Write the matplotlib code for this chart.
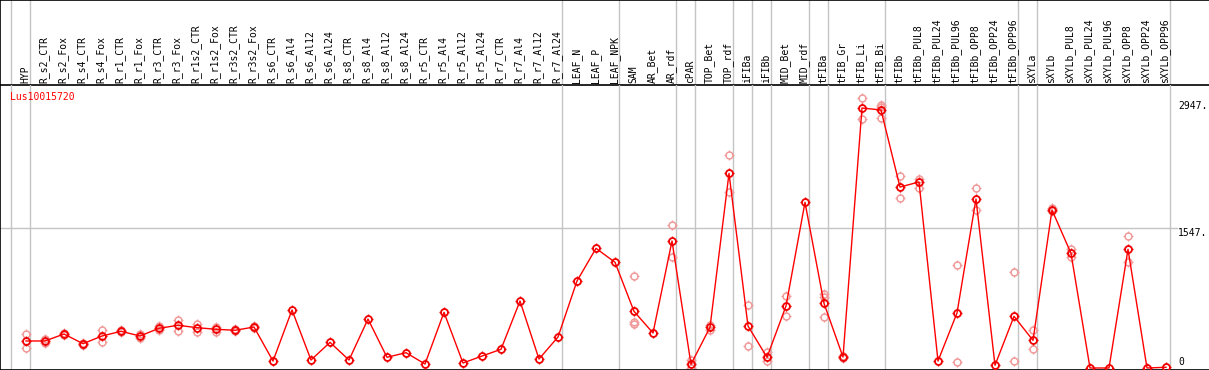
import matplotlib
matplotlib.use("Agg")
import matplotlib.pyplot as plt
import numpy as np
from matplotlib.path import Path

categories = ["HYP", "R_s2_CTR", "R_s2_Fox", "R_s4_CTR", "R_s4_Fox", "R_r1_CTR", "R_r1_Fox",
              "R_r3_CTR", "R_r3_Fox", "R_r1s2_CTR", "R_r1s2_Fox", "R_r3s2_CTR", "R_r3s2_Fox",
              "R_s6_CTR", "R_s6_Al4", "R_s6_Al12", "R_s6_Al24", "R_s8_CTR", "R_s8_Al4", "R_s8_Al12",
              "R_s8_Al24", "R_r5_CTR", "R_r5_Al4", "R_r5_Al12", "R_r5_Al24", "R_r7_CTR", "R_r7_Al4",
              "R_r7_Al12", "R_r7_Al24", "LEAF_N", "LEAF_P", "LEAF_NPK", "SAM", "AR_Bet", "AR_rdf",
              "cPAR", "TOP_Bet", "TOP_rdf", "iFIBa", "iFIBb", "MID_Bet", "MID_rdf", "tFIBa",
              "tFIB_Gr", "tFIB_Li", "tFIB_Bi", "tFIBb", "tFIBb_PUL8", "tFIBb_PUL24", "tFIBb_PUL96",
              "tFIBb_OPP8", "tFIBb_OPP24", "tFIBb_OPP96", "sXYLa", "sXYLb", "sXYLb_PUL8",
              "sXYLb_PUL24", "sXYLb_PUL96", "sXYLb_OPP8", "sXYLb_OPP24", "sXYLb_OPP96"]

means = [298, 298, 375, 268, 353, 405, 353, 438, 471, 445, 427, 416, 452,
         77, 640, 88, 283, 88, 540, 118, 169, 44, 614, 55, 132, 206, 739, 99, 342,
         960, 1320, 1166, 625, 386, 1401, 41, 449, 2147, 463, 118, 684, 1827,
         713, 121, 2868, 2846, 1996, 2052, 77, 607, 1864, 30, 570,
         305, 1743, 1265, 0, 0, 1309, 0, 8]

replicates = [[375, 224], [315, 280], [390, 360], [280, 255], [419, 283], [415, 395],
              [380, 330], [460, 420], [533, 411], [489, 394], [455, 397], [425, 405],
              [465, 440], [], [], [], [], [], [], [], [], [], [], [], [], [], [], [], [],
              [], [], [], [1011, 511, 485], [], [1574, 1221], [88, 4], [470, 419],
              [2346, 1945], [695, 239], [176, 81], [794, 570], [], [813, 780, 559],
              [130, 110], [2978, 2743], [2898, 2880, 2754], [2114, 1875], [2085, 1985], [],
              [1136, 66], [1982, 1743], [], [1059, 77], [419, 206], [1760, 1730],
              [1316, 1228], [], [], [1456, 1173], [], []]

group_starts = [0, 1, 29, 32, 35, 36, 38, 39, 40, 42, 43, 46, 53, 54, 61]
ytick_values = [2947, 1547, 0]
ytick_labels = ["2947.", "1547.", "0"]
gene = "Lus10015720"

W, H = 1209, 370
fig = plt.figure(figsize=(W / 100, H / 100), dpi=100)
fig.patch.set_facecolor("white")

# pixel geometry
x0_px, step_px = 26, 19
xl = (0 - x0_px) / step_px
xr = (W - x0_px) / step_px
header_bottom_px = 85
plot_bottom_px = 369

ax_h = fig.add_axes([0, 1 - header_bottom_px / H, 1, header_bottom_px / H])
ax = fig.add_axes([0, (H - plot_bottom_px - 0.5) / H, 1, (plot_bottom_px + 0.5 - header_bottom_px) / H])

for a in (ax, ax_h):
    a.set_xlim(xl, xr)
    a.set_xticks([])
    a.set_yticks([])
    a.patch.set_alpha(0)
    for s in a.spines.values():
        s.set_visible(False)

ax_h.set_ylim(0, 1)
for s in ("top", "bottom", "left"):
    ax_h.spines[s].set_visible(True)
    ax_h.spines[s].set_color("black")
    ax_h.spines[s].set_linewidth(1.2)
for s in ("bottom", "left"):
    ax.spines[s].set_visible(True)
    ax.spines[s].set_color("black")
    ax.spines[s].set_linewidth(1.2)

units_per_px = 11.03
zero_px = 368
ax.set_ylim((zero_px - plot_bottom_px - 0.5) * units_per_px,
            (zero_px - header_bottom_px) * units_per_px)

grey = "#c4c4c4"
sep_offset = 15 / 19
for g in group_starts:
    for a in (ax, ax_h):
        a.axvline(g - sep_offset, color=grey, lw=1.0, zorder=1)
ax.axhline(1547, xmin=0, xmax=1177 / W, color=grey, lw=1.0, zorder=1)

x = np.arange(len(categories))

# header labels
for i, c in enumerate(categories):
    ax_h.text(i - 0.05, 0.02, c, rotation=90, ha="center", va="bottom",
              fontsize=7, family="DejaVu Sans Mono", color="black")

# tick marker path
verts, codes = [], []
for dx, dy in [(0, 1), (0, -1), (1, 0), (-1, 0)]:
    verts += [(0.68 * dx, 0.68 * dy), (dx, dy)]
    codes += [Path.MOVETO, Path.LINETO]
tick_path = Path(verts, codes)

rep_color = "#f09a9a"
rx, ry = [], []
for i, r in enumerate(replicates):
    for v in r:
        rx.append(i)
        ry.append(v)
ax.plot(rx, ry, ls="none", marker="o", ms=5, mfc="none", mec=rep_color, mew=1.1, zorder=2)
ax.plot(rx, ry, ls="none", marker=tick_path, ms=7.2, mec=rep_color, mew=0.9, zorder=2)

mean_color = "#f00000"
ax.plot(x, means, color="#ff0000", lw=1.0, zorder=3)
ax.plot(x, means, ls="none", marker="o", ms=5, mfc="none", mec=mean_color, mew=1.3, zorder=4)
ax.plot(x, means, ls="none", marker=tick_path, ms=7.2, mec=mean_color, mew=1.0, zorder=4)

# y labels
offsets = [-5, -5, 6]
for v, lab, off in zip(ytick_values, ytick_labels, offsets):
    ax.annotate(lab, xy=(1178 / W, v), xycoords=("axes fraction", "data"),
                xytext=(0, off), textcoords="offset pixels", ha="left", va="center",
                fontsize=7, family="DejaVu Sans Mono", color="black")

ax.text(10 / W, 1 - 12.3 / 284, gene, transform=ax.transAxes, ha="left", va="center",
        fontsize=7, family="DejaVu Sans Mono", color="red")

fig.savefig("out.png", dpi=100)
